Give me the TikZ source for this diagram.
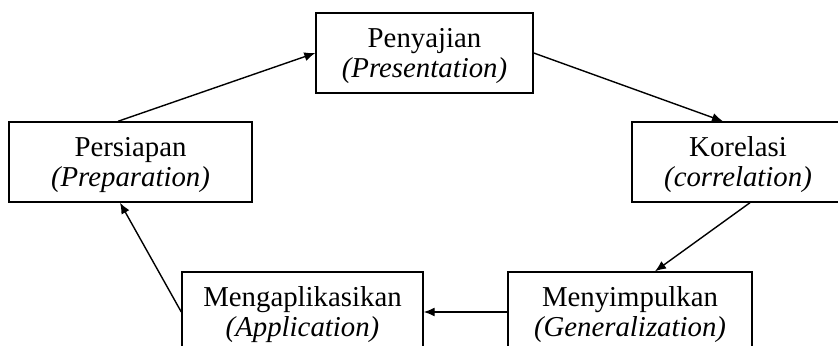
\documentclass[tikz,border=0pt]{standalone}
\usepackage{fontspec}
\setmainfont{Liberation Serif}
\usepackage{tikz}
\usetikzlibrary{arrows.meta}

\begin{document}
\begin{tikzpicture}[>={Latex[length=5.5pt,width=4.5pt]}, x=0.5pt, y=-0.5pt,
	kotak/.style={draw, line width=0.7pt, minimum height=40pt, inner sep=0pt, align=center, font=\fontsize{14.4}{15}\selectfont},
	panah/.style={->, line width=0.7pt}]
	%\draw [help lines] (0,0) grid (838,346);
	\useasboundingbox (0,0) rectangle (838,346);
	%Persiapan
	\node [kotak, minimum width=121.5pt] (persiapan) at (130.5,162) {\rule{0pt}{12.5pt}Persiapan\\\textit{(Preparation)}};
	%Penyajian
	\node [kotak, minimum width=108.5pt] (penyajian) at (424.5,53) {\rule{0pt}{12.5pt}Penyajian\\\textit{(Presentation)}};
	%Korelasi
	\node [kotak, minimum width=106pt] (korelasi) at (738,162) {\rule{0pt}{12.5pt}Korelasi\\\textit{(correlation)}};
	%Menyimpulkan
	\node [kotak, minimum width=122pt] (menyimpulkan) at (630,312) {\rule{0pt}{12.5pt}Menyimpulkan\\\textit{(Generalization)}};
	%Mengaplikasikan
	\node [kotak, minimum width=120.5pt] (mengaplikasikan) at (302.5,312) {\rule{0pt}{12.5pt}Mengaplikasikan\\\textit{(Application)}};
	%Panah
	\draw [panah] ([xshift=-6.25pt]persiapan.north) -- (penyajian.west);
	\draw [panah] (penyajian.east) -- ([xshift=-7.5pt]korelasi.north);
	\draw [panah] ([xshift=6pt]korelasi.south) -- ([xshift=12.5pt]menyimpulkan.north);
	\draw [panah] (menyimpulkan.west) -- (mengaplikasikan.east);
	\draw [panah] (mengaplikasikan.west) -- ([xshift=-5.25pt]persiapan.south);
\end{tikzpicture}
\end{document}
